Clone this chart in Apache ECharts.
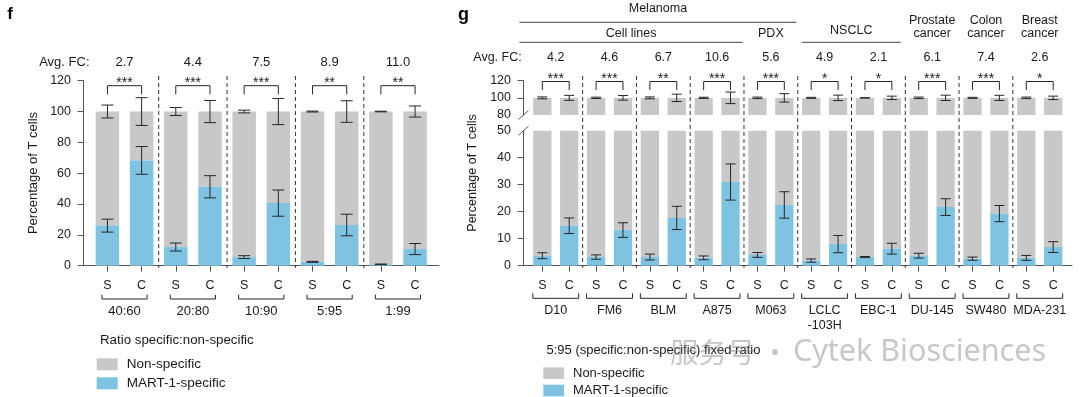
<!DOCTYPE html>
<html>
<head>
<meta charset="utf-8">
<title>T cell enrichment</title>
<style>
html,body{margin:0;padding:0;background:#fff;}
#main{width:1080px;height:397px;}
</style>
</head>
<body>
<div id="main"></div>
<script src="https://cdn.jsdelivr.net/npm/echarts@6/dist/echarts.min.js"></script>
<script>
// panel f : spiked ratios
var fGroups = ['40:60', '20:80', '10:90', '5:95', '1:99'];
var fFC = ['2.7', '4.4', '7.5', '8.9', '11.0'];
var fSig = ['***', '***', '***', '**', '**'];
var fSpec = [26.0, 68.3, 12.1, 51.2, 5.6, 40.6, 2.5, 26.4, 0.9, 10.8];   // MART-1-specific %, S then C
var fErr  = [4.2, 9.0, 2.6, 7.2, 0.9, 8.5, 0.3, 7.0, 0.2, 3.6];

// panel g : 5:95 fixed ratio, several cell lines
var gGroups = ['D10', 'FM6', 'BLM', 'A875', 'M063', 'LCLC\n-103H', 'EBC-1', 'DU-145', 'SW480', 'MDA-231'];
var gFC = ['4.2', '4.6', '6.7', '10.6', '5.6', '4.9', '2.1', '6.1', '7.4', '2.6'];
var gSig = ['***', '***', '**', '***', '***', '*', '*', '***', '***', '*'];
var gSpec = [3.7, 14.8, 3.2, 13.2, 3.2, 17.7, 2.9, 31.0, 4.0, 22.5, 1.9, 8.0, 3.2, 6.3, 3.7, 21.7, 2.6, 19.3, 2.9, 6.9];
var gErr  = [1.1, 2.9, 0.8, 2.7, 1.1, 4.3, 0.7, 6.7, 0.9, 4.9, 0.6, 3.2, 0.2, 2.0, 0.9, 3.1, 0.6, 3.0, 0.9, 2.0];
var gHeaderNames = ['Melanoma', 'Cell lines', 'PDX', 'NSCLC', 'Prostate\ncancer', 'Colon\ncancer', 'Breast\ncancer'];
var gHeaderFirst = [0, 0, 4, 5, 7, 8, 9];
var gHeaderLast  = [4, 3, 4, 6, 7, 8, 9];

var barLabels = ['S', 'C'];
var fTicks = [0, 20, 40, 60, 80, 100, 120];
var gTopTicks = [80, 100, 120];
var gLowTicks = [0, 10, 20, 30, 40, 50];

var FONT = "'Liberation Sans', Arial, Helvetica, sans-serif";
var INK = '#1a1a1a', AXIS = '#555', GRAY = '#c8c8c8', BLUE = '#7ec4e2', ERR = '#262626';

var chart = echarts.init(document.getElementById('main'));

function pairs(arr){ return arr.map(function(v,i){ return [i, v]; }); }
// non-specific part sits on top of the specific part: [x, start, share]
function nonSpec(arr){ return arr.map(function(v,i){ return [i, v, 100 - v]; }); }
function withErr(arr, err){ return arr.map(function(v,i){ return [i, v, err[i]]; }); }
function seq(n){ var a=[]; for(var i=0;i<n;i++) a.push(i); return a; }

function seg(x1, y1, x2, y2, dash){
  return {type:'line', shape:{x1:x1, y1:y1, x2:x2, y2:y2},
    style:{stroke: dash ? '#333' : ERR, lineWidth: 1, lineDash: dash ? [4, 3] : null}};
}
function poly(pts){
  return {type:'polyline', shape:{points:pts}, style:{stroke:ERR, lineWidth:1, fill:null}};
}
function txt(x, y, s, size, align, vAlign, lh){
  return {type:'text', x:x, y:y, style:{text:s, fill:INK, fontSize:size, fontFamily:FONT,
    align:align || 'center', verticalAlign:vAlign || 'middle', lineHeight:lh || size}};
}
function drawErr(api, x, c, e, half){
  var a = api.coord([x, c + e]), b = api.coord([x, c - e]);
  return [seg(a[0], a[1], b[0], b[1]), seg(a[0]-half, a[1], a[0]+half, a[1]), seg(b[0]-half, b[1], b[0]+half, b[1])];
}

// grey segment from the top of the blue bar to 100, clipped to its grid
function segBar(w){
  return function(params, api){
    var x = api.value(0), lo = api.value(1), len = api.value(2);
    var top = api.coord([x, lo + len]), bot = api.coord([x, lo]);
    var cs = params.coordSys;
    var r = echarts.graphic.clipRectByRect(
      {x:top[0] - w/2, y:top[1], width:w, height:bot[1] - top[1]},
      {x:cs.x, y:cs.y, width:cs.width, height:cs.height});
    return r && {type:'rect', shape:r, style:{fill:api.visual('color')}};
  };
}

// group annotations: FC, significance bracket, separators, S/C bracket + name
function groupNotes(o){
  return function(params, api){
    var k = api.value(0);
    var xs = api.coord([2*k, 0])[0], xc = api.coord([2*k+1, 0])[0], xm = (xs + xc) / 2;
    var kids = [
      txt(xm, o.fcY, o.fc[k], o.fcSize),
      txt(xm, o.starY, o.sig[k], 14),
      poly([[xs, o.brBot], [xs, o.brTop], [xc, o.brTop], [xc, o.brBot]]),
      poly([[xs - o.pad, o.lowTop], [xs - o.pad, o.lowBot], [xc + o.pad, o.lowBot], [xc + o.pad, o.lowTop]]),
      txt(xm, o.nameTop, o.names[k], o.nameSize, 'center', 'top', o.nameLH)
    ];
    if (k < o.names.length - 1) {
      var xd = api.coord([2*k + 1.5, 0])[0];
      kids.push(seg(xd, 76, xd, 268, true));
    }
    return {type:'group', children:kids};
  };
}

function headerItem(params, api){
  var h = api.value(0);
  var a = gHeaderFirst[h], b = gHeaderLast[h];
  var name = gHeaderNames[h];
  var kids = [];
  if (b > a) {
    var l = 2*a - (a === 0 ? 0.85 : 0.35), r = 2*b + 1 + (a === 0 ? 0.45 : 0.33);
    var xl = api.coord([l, 100])[0], xr = api.coord([r, 100])[0];
    var top = (b - a) >= 4;
    var ly = top ? 22.3 : 42.3;
    kids.push({type:'line', shape:{x1:xl, y1:ly, x2:xr, y2:ly}, style:{stroke:'#444', lineWidth:1}});
    kids.push(txt((xl + xr) / 2, top ? 9 : (name === 'NSCLC' ? 30.5 : 33.5), name, 12.5));
  } else {
    var xm = (api.coord([2*a, 100])[0] + api.coord([2*a+1, 100])[0]) / 2;
    if (name.indexOf('\n') >= 0) kids.push(txt(xm, 13.4, name, 12.5, 'center', 'top', 13.3));
    else kids.push(txt(xm, 33.5, name, 12.5));
  }
  return {type:'group', children:kids};
}

function breakMark(params, api){
  var p = api.coord([api.value(0), api.value(1)]);
  return {type:'line', shape:{x1:p[0]-5, y1:p[1]+4.5, x2:p[0]+5, y2:p[1]-4.5}, style:{stroke:AXIS, lineWidth:1}};
}

function xAxisFor(grid, n, show){
  var t = seq(n);
  return {type:'value', gridIndex:grid, min:-0.7, max:n - 1 + 0.7, show:show,
    splitLine:{show:false},
    axisLine:{show:true, onZero:false, lineStyle:{color:AXIS, width:1}},
    axisTick:{show:true, customValues:t, length:6, lineStyle:{color:AXIS}},
    axisLabel:{show:true, customValues:t, margin:13, fontSize:12.5, color:INK, fontFamily:FONT,
      formatter:function(v){ return barLabels[Math.round(v) % 2]; }}};
}
function yAxisFor(grid, ticks, tickVals){
  var ax = {type:'value', gridIndex:grid, min:ticks[0], max:ticks[ticks.length-1], interval:ticks[1]-ticks[0],
    splitLine:{show:false},
    axisLine:{show:true, onZero:false, lineStyle:{color:AXIS, width:1}},
    axisTick:{show:true, length:6, lineStyle:{color:AXIS}},
    axisLabel:{margin:12.5, fontSize:12.5, color:INK, fontFamily:FONT}};
  if (tickVals) ax.axisTick.customValues = tickVals;
  return ax;
}

var option = {
  animation:false,
  grid:[
    {left:83.5, top:80.7, width:355.5, height:185},
    {left:523.5, top:80.7, width:548.5, height:34.3},
    {left:523.5, top:130.7, width:548.5, height:135}
  ],
  xAxis:[
    xAxisFor(0, fSpec.length, true),
    xAxisFor(1, gSpec.length, false),
    xAxisFor(2, gSpec.length, true)
  ],
  yAxis:[
    yAxisFor(0, fTicks),
    yAxisFor(1, gTopTicks, gTopTicks.slice(1)),
    yAxisFor(2, gLowTicks, gLowTicks.slice(0, -1))
  ],
  legend:[
    {left:96.7, top:357.3, orient:'vertical', icon:'rect', itemWidth:21, itemHeight:12, itemGap:5, padding:0,
      selectedMode:false, data:['Non-specific', 'MART-1-specific'],
      textStyle:{fontSize:13.5, color:INK, fontFamily:FONT, padding:[0, 0, 0, 4]}},
    {left:543.3, top:366.7, orient:'vertical', icon:'rect', itemWidth:20.7, itemHeight:11.6, itemGap:4.3, padding:0,
      selectedMode:false, data:['Non-specific', 'MART-1-specific'],
      textStyle:{fontSize:13, color:INK, fontFamily:FONT, padding:[0, 0, 0, 4]}}
  ],
  graphic:[
    {type:'text', x:10, y:14.5, style:{text:'f', fontSize:17, fontWeight:'bold', fontFamily:FONT, fill:'#000', align:'center', verticalAlign:'middle'}},
    {type:'text', x:463.5, y:15, style:{text:'g', fontSize:18, fontWeight:'bold', fontFamily:FONT, fill:'#000', align:'center', verticalAlign:'middle'}},
    {type:'text', x:89.5, y:62, style:{text:'Avg. FC:', fontSize:13, fontFamily:FONT, fill:INK, align:'right', verticalAlign:'middle'}},
    {type:'text', x:521.7, y:57.7, style:{text:'Avg. FC:', fontSize:12.5, fontFamily:FONT, fill:INK, align:'right', verticalAlign:'middle'}},
    {type:'text', x:33, y:173, rotation:Math.PI/2, style:{text:'Percentage of T cells', fontSize:13, fontFamily:FONT, fill:INK, align:'center', verticalAlign:'middle'}},
    {type:'text', x:473, y:173, rotation:Math.PI/2, style:{text:'Percentage of T cells', fontSize:12.5, fontFamily:FONT, fill:INK, align:'center', verticalAlign:'middle'}},
    {type:'text', x:100, y:340, style:{text:'Ratio specific:non-specific', fontSize:13.3, fontFamily:FONT, fill:INK, align:'left', verticalAlign:'middle'}},
    {type:'text', x:546.5, y:350, style:{text:'5:95 (specific:non-specific) fixed ratio', fontSize:13, fontFamily:FONT, fill:INK, align:'left', verticalAlign:'middle'}},
    {type:'text', x:670, y:352, z:100, style:{text:'服务号', fontSize:28.5, fontFamily:'Noto Sans CJK SC', fill:'rgba(130,130,130,0.45)', align:'left', verticalAlign:'middle'}},
    {type:'text', x:775, y:352, z:100, style:{text:'·', fontSize:28.5, fontFamily:'Noto Sans CJK SC', fill:'rgba(130,130,130,0.45)', align:'center', verticalAlign:'middle'}},
    {type:'text', x:793, y:352, z:100, style:{text:'Cytek Biosciences', fontSize:30.5, fontFamily:'Noto Sans', fill:'rgba(130,130,130,0.45)', align:'left', verticalAlign:'middle'}}
  ],
  series:[
    // panel f
    {name:'MART-1-specific', type:'bar', xAxisIndex:0, yAxisIndex:0, barWidth:23.5, itemStyle:{color:BLUE}, data:pairs(fSpec)},
    {name:'Non-specific', type:'custom', xAxisIndex:0, yAxisIndex:0, itemStyle:{color:GRAY}, encode:{x:0, y:1},
      data:nonSpec(fSpec), renderItem:segBar(23.5)},
    {type:'custom', xAxisIndex:0, yAxisIndex:0, z:5, encode:{x:0, y:1}, data:withErr(fSpec, fErr),
      renderItem:function(params, api){
        var x = api.value(0), v = api.value(1), e = api.value(2);
        return {type:'group', children:drawErr(api, x, v, e, 6).concat(drawErr(api, x, 100, e, 6))};
      }},
    {type:'custom', xAxisIndex:0, yAxisIndex:0, z:5, encode:{x:0, y:1}, data:pairs(fGroups.map(function(){ return 0; })),
      renderItem:groupNotes({fc:fFC, sig:fSig, names:fGroups, fcY:62, fcSize:13, starY:83.5, brTop:85.7, brBot:94.3,
        pad:5.5, lowTop:294.7, lowBot:299, nameTop:304, nameSize:13, nameLH:15.6})},

    // panel g, upper part of broken axis
    {name:'Non-specific', type:'custom', xAxisIndex:1, yAxisIndex:1, itemStyle:{color:GRAY}, encode:{x:0, y:1},
      data:nonSpec(gSpec), renderItem:segBar(18.3)},
    {type:'custom', xAxisIndex:1, yAxisIndex:1, z:5, encode:{x:0, y:1}, data:withErr(gSpec, gErr),
      renderItem:function(params, api){
        return {type:'group', children:drawErr(api, api.value(0), 100, api.value(2), 5)};
      }},
    {type:'custom', xAxisIndex:1, yAxisIndex:1, z:5, encode:{x:0, y:1}, data:pairs(gHeaderNames.map(function(){ return 100; })),
      renderItem:headerItem},
    {type:'custom', xAxisIndex:1, yAxisIndex:1, z:6, encode:{x:0, y:1}, data:[[-0.7, gTopTicks[0]]], renderItem:breakMark},

    // panel g, lower part
    {name:'MART-1-specific', type:'bar', xAxisIndex:2, yAxisIndex:2, barWidth:18.3, itemStyle:{color:BLUE}, data:pairs(gSpec)},
    {name:'Non-specific', type:'custom', xAxisIndex:2, yAxisIndex:2, itemStyle:{color:GRAY}, encode:{x:0, y:1},
      data:nonSpec(gSpec), renderItem:segBar(18.3)},
    {type:'custom', xAxisIndex:2, yAxisIndex:2, z:5, encode:{x:0, y:1}, data:withErr(gSpec, gErr),
      renderItem:function(params, api){
        return {type:'group', children:drawErr(api, api.value(0), api.value(1), api.value(2), 5)};
      }},
    {type:'custom', xAxisIndex:2, yAxisIndex:2, z:5, encode:{x:0, y:1}, data:pairs(gGroups.map(function(){ return 0; })),
      renderItem:groupNotes({fc:gFC, sig:gSig, names:gGroups, fcY:57.7, fcSize:12.5, starY:79.5, brTop:81.5, brBot:90,
        pad:9.5, lowTop:293.3, lowBot:298.3, nameTop:302.3, nameSize:12.5, nameLH:15.7})},
    {type:'custom', xAxisIndex:2, yAxisIndex:2, z:6, encode:{x:0, y:1}, data:[[-0.7, gLowTicks[gLowTicks.length-1]]], renderItem:breakMark}
  ]
};

chart.setOption(option);
</script>
</body>
</html>
